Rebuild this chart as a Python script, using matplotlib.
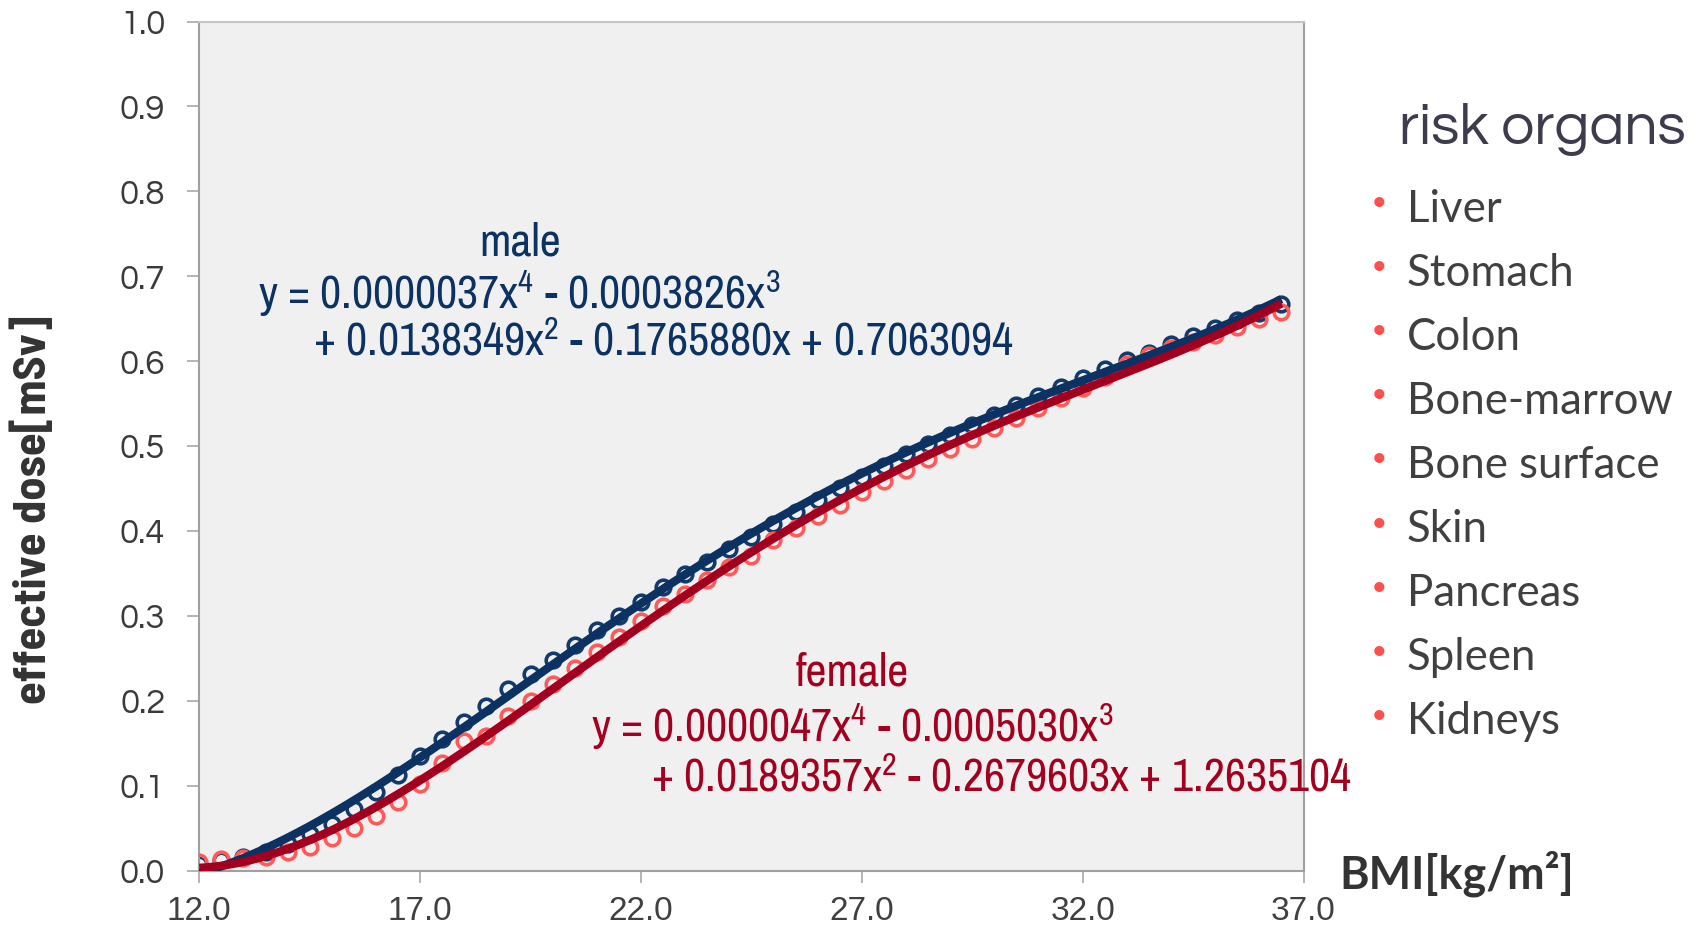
import matplotlib
matplotlib.use("Agg")
import matplotlib.pyplot as plt
from matplotlib import font_manager
import numpy as np

# BMI steps and effective dose
bmi = [12.0, 12.5, 13.0, 13.5, 14.0, 14.5, 15.0, 15.5, 16.0, 16.5,
       17.0, 17.5, 18.0, 18.5, 19.0, 19.5, 20.0, 20.5, 21.0, 21.5,
       22.0, 22.5, 23.0, 23.5, 24.0, 24.5, 25.0, 25.5, 26.0, 26.5,
       27.0, 27.5, 28.0, 28.5, 29.0, 29.5, 30.0, 30.5, 31.0, 31.5,
       32.0, 32.5, 33.0, 33.5, 34.0, 34.5, 35.0, 35.5, 36.0, 36.5]

dose_male = [0.008, 0.012, 0.016, 0.022, 0.031, 0.043, 0.055, 0.073, 0.093, 0.112,
             0.135, 0.155, 0.175, 0.194, 0.214, 0.232, 0.248, 0.266, 0.283, 0.300,
             0.316, 0.334, 0.349, 0.363, 0.379, 0.393, 0.408, 0.422, 0.436, 0.451,
             0.464, 0.477, 0.491, 0.502, 0.513, 0.525, 0.537, 0.548, 0.559, 0.570,
             0.580, 0.591, 0.601, 0.610, 0.620, 0.630, 0.639, 0.648, 0.657, 0.667]

dose_female = [0.010, 0.013, 0.015, 0.016, 0.022, 0.028, 0.038, 0.050, 0.064, 0.081,
               0.102, 0.127, 0.153, 0.159, 0.182, 0.200, 0.220, 0.239, 0.257, 0.275,
               0.294, 0.312, 0.326, 0.342, 0.357, 0.371, 0.389, 0.403, 0.417, 0.431,
               0.446, 0.459, 0.472, 0.485, 0.497, 0.508, 0.521, 0.533, 0.545, 0.557,
               0.568, 0.581, 0.596, 0.607, 0.616, 0.623, 0.631, 0.640, 0.649, 0.658]

x_ticks = [12.0, 17.0, 22.0, 27.0, 32.0, 37.0]
y_ticks = [0.0, 0.1, 0.2, 0.3, 0.4, 0.5, 0.6, 0.7, 0.8, 0.9, 1.0]

male_text = ["male",
             "y = 0.0000037x$^{4}$ - 0.0003826x$^{3}$",
             "+ 0.0138349x$^{2}$ - 0.1765880x + 0.7063094"]
female_text = ["female",
               "y = 0.0000047x$^{4}$ - 0.0005030x$^{3}$",
               "+ 0.0189357x$^{2}$ - 0.2679603x + 1.2635104"]

organs = ["Liver", "Stomach", "Colon", "Bone-marrow", "Bone surface",
          "Skin", "Pancreas", "Spleen", "Kidneys"]

MALE = "#0B3262"
MALE_PTS = "#123A6B"
FEMALE = "#A3001F"
FEMALE_PTS = "#FF5A5A"

W, H = 1707, 935

installed = {f.name for f in font_manager.fontManager.ttflist}


def pick(*cands):
    for c in cands:
        if c in installed:
            return c
    return "DejaVu Sans"


narrow = pick("Archivo Narrow", "Barlow Semi Condensed", "Liberation Sans")
narrow_bold = pick("Barlow Semi Condensed", "Barlow Condensed", "Liberation Sans")
gothic = pick("URW Gothic", "Questrial", "Didact Gothic", "Poppins", "Montserrat", "DejaVu Sans")
body = pick("Lato", "Open Sans")

plt.rcParams["mathtext.fontset"] = "custom"
plt.rcParams["mathtext.rm"] = narrow
plt.rcParams["mathtext.it"] = narrow

fig = plt.figure(figsize=(W / 100, H / 100), dpi=100)
ax = fig.add_axes([199.3 / W, 1 - 870.5 / H, (1303.5 - 199.3) / W, (870.5 - 21.5) / H])
ax.set_facecolor("#F0F0F0")

ax.plot(bmi, dose_male, "o", mfc="none", mec=MALE_PTS, ms=10.5, mew=2.6, zorder=2)
ax.plot(bmi, dose_female, "o", mfc="none", mec=FEMALE_PTS, ms=10.5, mew=2.6, zorder=3)

# 4th order polynomial trendlines, like the spreadsheet
xs = np.linspace(bmi[0], bmi[-1], 300)
fit_m = np.polyfit(bmi, dose_male, 4)
fit_f = np.polyfit(bmi, dose_female, 4)
ax.plot(xs, np.polyval(fit_m, xs), color=MALE, lw=6, solid_capstyle="butt", zorder=4)
ax.plot(xs, np.polyval(fit_f, xs), color=FEMALE, lw=6, solid_capstyle="butt", zorder=5)

ax.set_xlim(12, 37)
ax.set_ylim(0, 1)
ax.set_xticks(x_ticks)
ax.set_xticklabels([f"{v:.1f}" for v in x_ticks], family="Liberation Sans",
                   fontsize=24, color="#404040")
ax.set_yticks(y_ticks)
ax.set_yticklabels([f"{v:.1f}" for v in y_ticks], family=gothic,
                   fontsize=25, color="#3A3A3A")
ax.tick_params(axis="both", direction="out", length=8.5, width=1.1, color="#A0A0A0")
ax.tick_params(axis="y", pad=16)
ax.tick_params(axis="x", pad=10)
for side in ["left", "bottom", "right"]:
    ax.spines[side].set_color("#A0A0A0")
    ax.spines[side].set_linewidth(1.5)
ax.spines["top"].set_color("#C4C4C4")
ax.spines["top"].set_linewidth(1.5)

fig.canvas.draw()
renderer = fig.canvas.get_renderer()


def put(x_px, y_px, s, width_px, ha="left", rotation=0, **kw):
    t = fig.text(x_px / W, 1 - y_px / H, s, ha=ha, va="center",
                 rotation=rotation, fontsize=20, **kw)
    bb = t.get_window_extent(renderer)
    w = bb.height if rotation else bb.width
    t.set_fontsize(20 * width_px / w)
    return t


# trendline equations
eq = put(258, 293, male_text[1], 524, color=MALE, family=narrow)
fs = eq.get_fontsize()
fig.text(520 / W, 1 - 242 / H, male_text[0], ha="center", va="center",
         fontsize=fs, color=MALE, family=narrow)
fig.text(313 / W, 1 - 342 / H, male_text[2], ha="left", va="center",
         fontsize=fs, color=MALE, family=narrow)
fig.text(852 / W, 1 - 673 / H, female_text[0], ha="center", va="center",
         fontsize=fs, color=FEMALE, family=narrow)
fig.text(591 / W, 1 - 726 / H, female_text[1], ha="left", va="center",
         fontsize=fs, color=FEMALE, family=narrow)
fig.text(651 / W, 1 - 778 / H, female_text[2], ha="left", va="center",
         fontsize=fs, color=FEMALE, family=narrow)

# axis titles
put(1339, 874, "BMI[kg/m\u00b2]", 234, color="#333333", weight="bold",
    family=[body, "DejaVu Sans"])
put(33, 510, "effective dose[mSv]", 389, ha="center", rotation=90,
    color="#333333", weight="bold", family=narrow_bold)

# risk organ list
put(1399, 130, "risk organs", 286, color="#3C3C4C", family=gothic)
item = put(1407, 209, organs[3], 266, color="#404040", family=[body, "DejaVu Sans"])
ifs = item.get_fontsize()
item.remove()
for i, name in enumerate(organs):
    y = 209 + i * 64.1
    fig.text(1407 / W, 1 - y / H, name, ha="left", va="center", fontsize=ifs,
             color="#404040", family=[body, "DejaVu Sans"])
    fig.text(1379 / W, 1 - (y - 4) / H, "\u2022", ha="center", va="center",
             fontsize=ifs * 0.8, color="#FF5050", family="DejaVu Sans")

fig.savefig("out.png", dpi=100)
